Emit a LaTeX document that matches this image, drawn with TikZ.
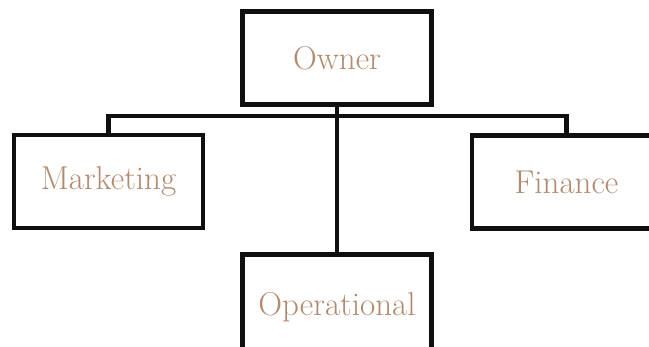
\documentclass[tikz,border=0pt]{standalone}
\usepackage{fontspec}
\usepackage{xcolor}
\usepackage{tikz}
\usetikzlibrary{positioning,calc}
\definecolor{orgline}{RGB}{15, 15, 15}
\definecolor{orgtext}{RGB}{178, 138, 112}

\begin{document}
\begin{tikzpicture}[
  x=1pt, y=-1pt,
  unitbox/.style={rectangle, draw=orgline, fill=white, line width=4.4pt, minimum width=189pt, minimum height=93pt, align=center, text=orgtext, font=\fontsize{33}{38}\selectfont},
  link/.style={line width=4.4pt, color=orgline}
]
\useasboundingbox (0,0) rectangle (649,347);
\fill[white] (0,0) rectangle (649,347);

\node[unitbox] (owner) at (337,58) {Owner};
\node[unitbox] (mkt) at (108.5,181.5) {Marketing};
\node[unitbox] (fin) at (566.5,182) {Finance};
\node[unitbox, minimum height=105pt] (ops) at (337,307) {Operational};
\coordinate (bus) at (337,116);

\draw[link] (owner.south) -- (ops.north);
\draw[link] (mkt.north) |- (bus) -| (fin.north);
\end{tikzpicture}
\end{document}
